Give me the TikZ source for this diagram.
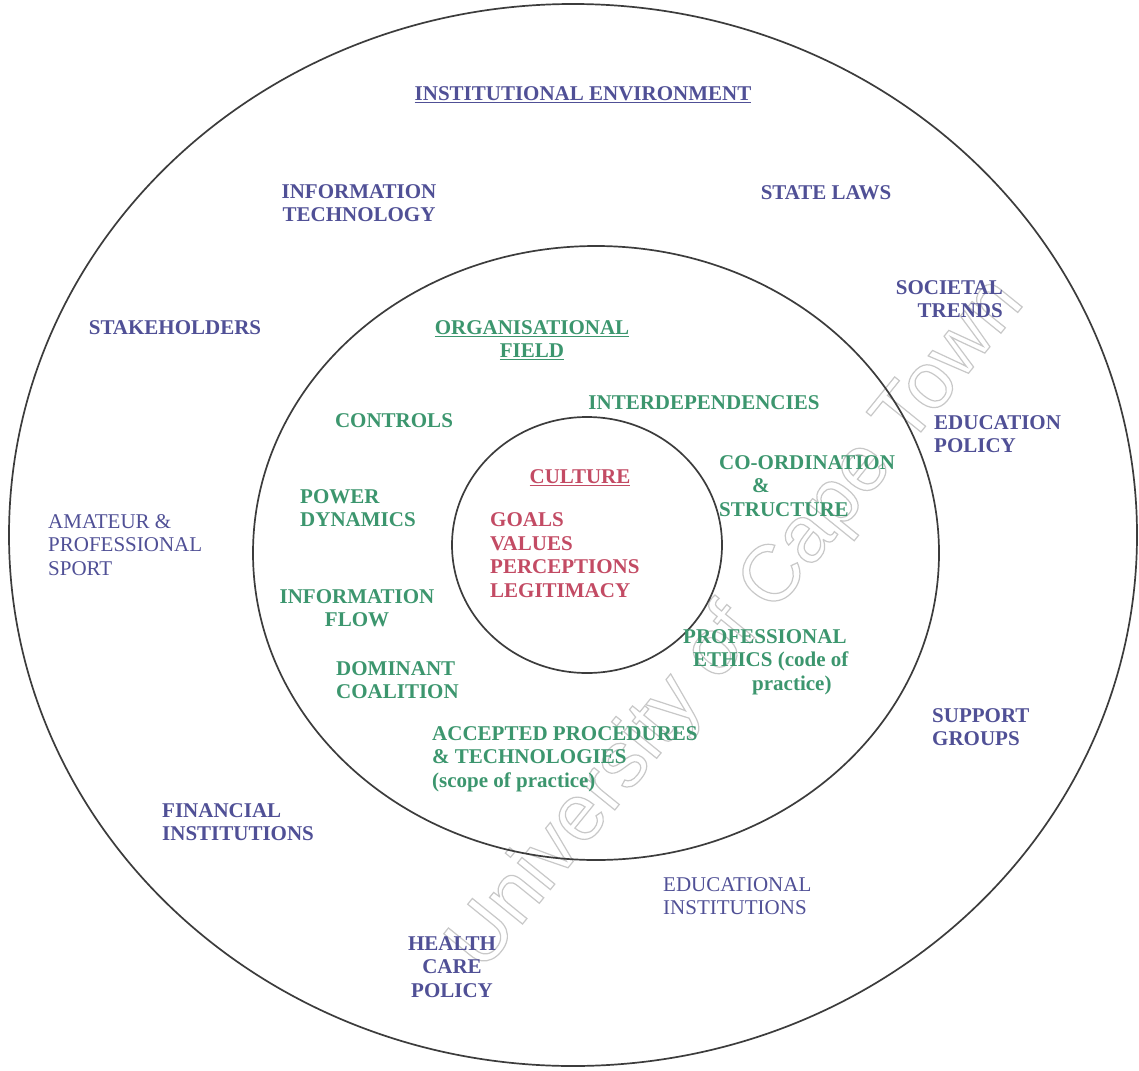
\documentclass[tikz,border=0pt]{standalone}
\usepackage{fontspec}
\newfontfamily\serf{Liberation Serif}
\newfontfamily\sansf{Liberation Sans}
\definecolor{envblue}{RGB}{80,80,150}
\definecolor{fieldgreen}{RGB}{60,150,110}
\definecolor{culturered}{RGB}{195,75,100}
\definecolor{ringgray}{RGB}{60,60,60}
\definecolor{markgray}{RGB}{200,200,200}
% outlined (hollow) lettering through the PDF text render mode
\newcommand{\hollow}[1]{\special{pdf:literal direct 1 Tr 1.2 w}#1\special{pdf:literal direct 0 Tr}}
\begin{document}
\begin{tikzpicture}[x=1pt,y=-1pt,
  ring/.style={draw=ringgray,line width=1.7pt},
  lbl/.style={inner sep=0pt,font=\serf\bfseries\fontsize{21}{23.5}\selectfont},
  lblreg/.style={inner sep=0pt,font=\serf\fontsize{21}{23.5}\selectfont},
  env/.style={lbl,text=envblue},
  envreg/.style={lblreg,text=envblue},
  fld/.style={lbl,text=fieldgreen},
  cul/.style={lbl,text=culturered}]
\useasboundingbox[fill=white] (0,0) rectangle (1139,1070);

% background lettering
\node[inner sep=0pt,rotate=51,text=markgray,font=\sansf\fontsize{80}{80}\selectfont]
  (mark) at (738,625) {\hollow{University of Cape Town}};

% the three rings
\draw[ring] (573,535) ellipse [x radius=564, y radius=531];
\draw[ring] (596,553) ellipse [x radius=343, y radius=307];
\draw[ring] (587,545) ellipse [x radius=135, y radius=128];

% institutional environment
\node[env] (envt) at (583,95) {\underline{INSTITUTIONAL ENVIRONMENT}};
\node[env,align=center] (infotech) at (359,203) {INFORMATION\\TECHNOLOGY};
\node[env] (statelaws) at (826,193) {STATE LAWS};
\node[env,align=right,anchor=east] (societal) at (1003,299) {SOCIETAL\\TRENDS};
\node[env] (stake) at (175,328) {STAKEHOLDERS};
\node[env,align=left,anchor=west] (edupol) at (934,434) {EDUCATION\\POLICY};
\node[envreg,align=left,anchor=west] (sport) at (48,545) {AMATEUR \&\\PROFESSIONAL\\SPORT};
\node[env,align=left,anchor=west] (support) at (932,727) {SUPPORT\\GROUPS};
\node[env,align=left,anchor=west] (financial) at (162,822) {FINANCIAL\\INSTITUTIONS};
\node[envreg,align=left,anchor=west] (eduinst) at (663,896) {EDUCATIONAL\\INSTITUTIONS};
\node[env,align=center] (health) at (452,967) {HEALTH\\CARE\\POLICY};

% organisational field
\node[fld,align=center] (orgfield) at (532,340) {\underline{ORGANISATIONAL}\\\underline{FIELD}};
\node[fld] (controls) at (394,421) {CONTROLS};
\node[fld] (interdep) at (704,403) {INTERDEPENDENCIES};
\node[fld,align=left,anchor=west] (coord) at (719,486) {CO-ORDINATION\\\hspace*{33pt}\&\\STRUCTURE};
\node[fld,align=left,anchor=west] (power) at (300,508) {POWER\\DYNAMICS};
\node[fld,align=center] (infoflow) at (357,608) {INFORMATION\\FLOW};
\node[fld,align=left,anchor=west] (ethics) at (683,662) {PROFESSIONAL\\\hspace*{10pt}ETHICS (code of\\\hspace*{69pt}practice)};
\node[fld,align=left,anchor=west] (dominant) at (336,680) {DOMINANT\\COALITION};
\node[fld,align=left,anchor=west] (accepted) at (432,759) {ACCEPTED PROCEDURES\\\& TECHNOLOGIES\\(scope of practice)};

% culture
\node[cul] (culture) at (580,478) {\underline{CULTURE}};
\node[cul,align=left,anchor=west] (goals) at (490,555) {GOALS\\VALUES\\PERCEPTIONS\\LEGITIMACY};
\end{tikzpicture}
\end{document}
